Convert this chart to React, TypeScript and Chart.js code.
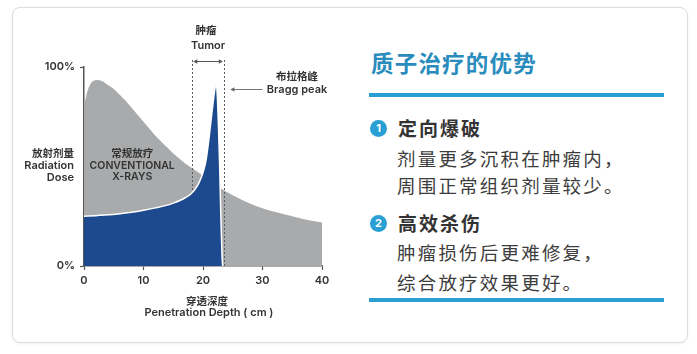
import { useEffect, useRef } from "react";
import { Chart, registerables } from "chart.js";

Chart.register(...registerables);

// ---------- data ----------
const depthTickValues = [0, 10, 20, 30, 40];
const doseTickValues = [0, 100];

const xrayDepth = [0, 0.5, 1, 1.5, 2.2, 3, 4, 5, 6, 7, 8, 9, 10, 11, 12, 13, 14, 15, 16, 17, 18, 19, 20, 21, 22, 23, 25, 27, 29, 31, 33, 35, 37, 39, 40];
const xrayDose = [80, 87, 91, 92.8, 93.5, 93, 91, 89, 86, 83, 79.5, 76, 72.5, 69, 65.5, 62.5, 59.5, 56.5, 54, 51.5, 49.5, 47.5, 45.5, 43.5, 41, 39, 35.5, 32.5, 30, 28, 26.5, 25, 23.5, 22.3, 21.8];

const protonDepth = [0, 2, 4, 6, 8, 10, 12, 14, 15, 16, 17, 18, 19, 19.5, 20, 20.5, 21, 21.5, 22, 22.2, 22.4, 22.6, 22.8, 23, 23.2, 23.3];
const protonDose = [25, 25.3, 25.7, 26.3, 27, 28, 29.2, 30.6, 31.6, 32.8, 34.3, 36.3, 40, 43, 47, 53, 64, 77, 89, 92, 86, 70, 50, 25, 5, 0];

const tumorRange = [18.2, 23.5];
const braggArrow = [24.6, 30];
const braggLabelDepth = 35.8;
const conventionalLabelDepth = 8.1;
const xTitleDepth = 21;

const yTitleLines = ["放射剂量", "Radiation", "Dose"];
const conventionalLines = ["常规放疗", "CONVENTIONAL", "X-RAYS"];
const xTitleLines = ["穿透深度", "Penetration Depth ( cm )"];
const tumorLines = ["肿瘤", "Tumor"];
const braggLines = ["布拉格峰", "Bragg peak"];

const panelTitle = "质子治疗的优势";
const items = [
  { n: "1", head: "定向爆破", body: ["剂量更多沉积在肿瘤内，", "周围正常组织剂量较少。"] },
  { n: "2", head: "高效杀伤", body: ["肿瘤损伤后更难修复，", "综合放疗效果更好。"] },
];

// ---------- styles ----------
const GRAY = "#a8aaac";
const BLUE = "#1d4a8e";
const INK = "#333333";
const ACCENT = "#2a9fd4";
const EN_FONT = "Inter, 'Noto Sans CJK SC', sans-serif";
const CJK_FONT = "'Noto Sans CJK SC', Inter, sans-serif";

function arrowHead(ctx: CanvasRenderingContext2D, x: number, y: number, dir: number) {
  ctx.beginPath();
  ctx.moveTo(x, y);
  ctx.lineTo(x - dir * 4, y - 2.2);
  ctx.lineTo(x - dir * 4, y + 2.2);
  ctx.closePath();
  ctx.fill();
}

const annotationPlugin = {
  id: "annotations",
  afterDatasetDraw(chart: any, args: any) {
    if (args.index !== 0) return;
    const { ctx, chartArea, scales } = chart;
    ctx.save();
    ctx.strokeStyle = "#5a5a5a";
    ctx.lineWidth = 1;
    ctx.setLineDash([2, 2]);
    for (const d of tumorRange) {
      const x = Math.round(scales.x.getPixelForValue(d)) + 0.5;
      ctx.beginPath();
      ctx.moveTo(x, chartArea.top - 7);
      ctx.lineTo(x, chartArea.bottom);
      ctx.stroke();
    }
    ctx.restore();
  },
  afterDatasetsDraw(chart: any) {
    const { ctx, chartArea, scales } = chart;
    const xs = scales.x;
    ctx.save();
    ctx.fillStyle = INK;
    ctx.strokeStyle = "#555";
    ctx.textBaseline = "middle";

    // tumor arrow
    const t1 = xs.getPixelForValue(tumorRange[0]);
    const t2 = xs.getPixelForValue(tumorRange[1]);
    const ty = chartArea.top - 6;
    ctx.lineWidth = 1;
    ctx.fillStyle = "#555";
    ctx.beginPath();
    ctx.moveTo(t1 + 2, ty + 0.5);
    ctx.lineTo(t2 - 2, ty + 0.5);
    ctx.stroke();
    arrowHead(ctx, t1 + 1, ty + 0.5, -1);
    arrowHead(ctx, t2 - 1, ty + 0.5, 1);

    // bragg arrow
    const b1 = xs.getPixelForValue(braggArrow[0]);
    const b2 = xs.getPixelForValue(braggArrow[1]);
    const by = chartArea.top + 22.5;
    ctx.strokeStyle = "#777";
    ctx.fillStyle = "#666";
    ctx.beginPath();
    ctx.moveTo(b1 + 2, by);
    ctx.lineTo(b2, by);
    ctx.stroke();
    arrowHead(ctx, b1, by, -1);

    ctx.fillStyle = INK;
    ctx.textAlign = "center";
    const tm = (t1 + t2) / 2;
    ctx.font = `700 10.5px ${CJK_FONT}`;
    ctx.fillText(tumorLines[0], tm - 2, chartArea.top - 37);
    ctx.font = `600 11px ${EN_FONT}`;
    ctx.fillText(tumorLines[1], tm, chartArea.top - 21);

    const bx = xs.getPixelForValue(braggLabelDepth);
    ctx.font = `700 10.5px ${CJK_FONT}`;
    ctx.fillText(braggLines[0], bx, chartArea.top + 9);
    ctx.font = `600 11px ${EN_FONT}`;
    ctx.fillText(braggLines[1], bx, chartArea.top + 22.5);

    // conventional label
    const cx = xs.getPixelForValue(conventionalLabelDepth);
    ctx.font = `700 10.5px ${CJK_FONT}`;
    ctx.fillText(conventionalLines[0], cx, chartArea.top + 86);
    ctx.font = `600 10.5px ${EN_FONT}`;
    ctx.fillText(conventionalLines[1], cx, chartArea.top + 99);
    ctx.fillText(conventionalLines[2], cx, chartArea.top + 110);

    // y title
    ctx.textAlign = "right";
    const yx = chartArea.left - 10;
    ctx.font = `700 10.5px ${CJK_FONT}`;
    ctx.fillText(yTitleLines[0], yx, chartArea.top + 86);
    ctx.font = `600 11px ${EN_FONT}`;
    ctx.fillText(yTitleLines[1], yx, chartArea.top + 99);
    ctx.fillText(yTitleLines[2], yx, chartArea.top + 111);

    // x title
    ctx.textAlign = "center";
    const xx = xs.getPixelForValue(xTitleDepth);
    ctx.font = `700 10.5px ${CJK_FONT}`;
    ctx.fillText(xTitleLines[0], xx - 2, chartArea.bottom + 35);
    ctx.font = `600 11px ${EN_FONT}`;
    ctx.fillText(xTitleLines[1], xx, chartArea.bottom + 47);
    ctx.restore();
  },
};

function DoseChart() {
  const ref = useRef<HTMLCanvasElement | null>(null);
  useEffect(() => {
    if (!ref.current) return;
    const chart = new Chart(ref.current, {
      type: "line",
      data: {
        datasets: [
          {
            label: "X-rays",
            data: xrayDepth.map((x, i) => ({ x, y: xrayDose[i] })),
            borderColor: GRAY,
            backgroundColor: GRAY,
            borderWidth: 0,
            fill: "origin",
            pointRadius: 0,
            cubicInterpolationMode: "monotone",
            order: 2,
          },
          {
            label: "Proton",
            data: protonDepth.map((x, i) => ({ x, y: protonDose[i] })),
            borderColor: "#ffffff",
            backgroundColor: BLUE,
            borderWidth: 1.5,
            fill: "origin",
            pointRadius: 0,
            cubicInterpolationMode: "monotone",
            order: 1,
          },
        ],
      },
      options: {
        responsive: false,
        animation: false,
        devicePixelRatio: 1,
        layout: { padding: { left: 0, top: 67, right: 28, bottom: 0 } },
        plugins: { legend: { display: false }, tooltip: { enabled: false } },
        scales: {
          x: {
            type: "linear",
            min: 0,
            max: 40,
            z: 1,
            afterBuildTicks: (s: any) => {
              s.ticks = depthTickValues.map((v) => ({ value: v }));
            },
            afterFit: (s: any) => {
              s.height = 88;
            },
            ticks: {
              color: INK,
              padding: 4,
              font: { family: EN_FONT, size: 11, weight: "600" },
            },
            grid: { drawOnChartArea: false, drawTicks: true, tickLength: 4, tickColor: "#555", tickWidth: 1.2 },
            border: { display: true, color: "#555", width: 1.5 },
          },
          y: {
            min: 0,
            max: 100,
            z: 1,
            afterBuildTicks: (s: any) => {
              s.ticks = doseTickValues.map((v) => ({ value: v }));
            },
            afterFit: (s: any) => {
              s.width = 84;
            },
            ticks: {
              color: INK,
              padding: 5,
              callback: (v: any) => `${v}%`,
              font: { family: EN_FONT, size: 11, weight: "600" },
            },
            grid: { drawOnChartArea: false, drawTicks: true, tickLength: 4, tickColor: "#555", tickWidth: 1.2 },
            border: { display: true, color: "#555", width: 1.5 },
          },
        },
      },
      plugins: [annotationPlugin],
    } as any);
    return () => chart.destroy();
  }, []);
  return (
    <canvas
      ref={ref}
      width={350}
      height={354}
      style={{ position: "absolute", left: 0, top: 0, width: 350, height: 354 }}
    />
  );
}

export default function App() {
  const itemTops = [128, 223];
  const bodyOffsets = [[30, 57], [29, 59]];
  return (
    <div
      style={{
        position: "absolute",
        left: 0,
        top: 0,
        width: 697,
        height: 354,
        background: "#ffffff",
        overflow: "hidden",
        fontFamily: CJK_FONT,
      }}
    >
      <div
        style={{
          position: "absolute",
          left: 12,
          top: 7,
          width: 674,
          height: 334,
          border: "1px solid #dcdcdc",
          borderRadius: 8,
          boxShadow: "0 1px 3px rgba(0,0,0,0.06)",
          background: "#fff",
        }}
      />
      <DoseChart />
      <div
        style={{
          position: "absolute",
          left: 371,
          top: 47,
          height: 30,
          lineHeight: "30px",
          fontSize: 22.5,
          fontWeight: 700,
          letterSpacing: 1.2,
          color: "#2a8bbd",
          whiteSpace: "nowrap",
        }}
      >
        {panelTitle}
      </div>
      <div style={{ position: "absolute", left: 369, top: 93, width: 295, height: 4, background: ACCENT }} />
      {items.map((it, k) => {
        const cy = itemTops[k];
        return (
          <div key={it.n}>
            <div
              style={{
                position: "absolute",
                left: 370,
                top: cy - 8.5,
                width: 17,
                height: 17,
                borderRadius: "50%",
                background: ACCENT,
                color: "#fff",
                fontFamily: EN_FONT,
                fontWeight: 700,
                fontSize: 11,
                lineHeight: "17px",
                textAlign: "center",
              }}
            >
              {it.n}
            </div>
            <div
              style={{
                position: "absolute",
                left: 398,
                top: cy - 14,
                height: 28,
                lineHeight: "28px",
                fontSize: 19,
                fontWeight: 700,
                letterSpacing: 2,
                color: INK,
                whiteSpace: "nowrap",
              }}
            >
              {it.head}
            </div>
            {it.body.map((line, j) => (
              <div
                key={j}
                style={{
                  position: "absolute",
                  left: 397,
                  top: cy + bodyOffsets[k][j] - 14,
                  height: 28,
                  lineHeight: "28px",
                  fontSize: 18.5,
                  fontWeight: 400,
                  letterSpacing: 2.2,
                  color: "#3d3d3d",
                  whiteSpace: "nowrap",
                }}
              >
                {line}
              </div>
            ))}
          </div>
        );
      })}
      <div style={{ position: "absolute", left: 369, top: 298, width: 295, height: 4, background: ACCENT }} />
    </div>
  );
}
